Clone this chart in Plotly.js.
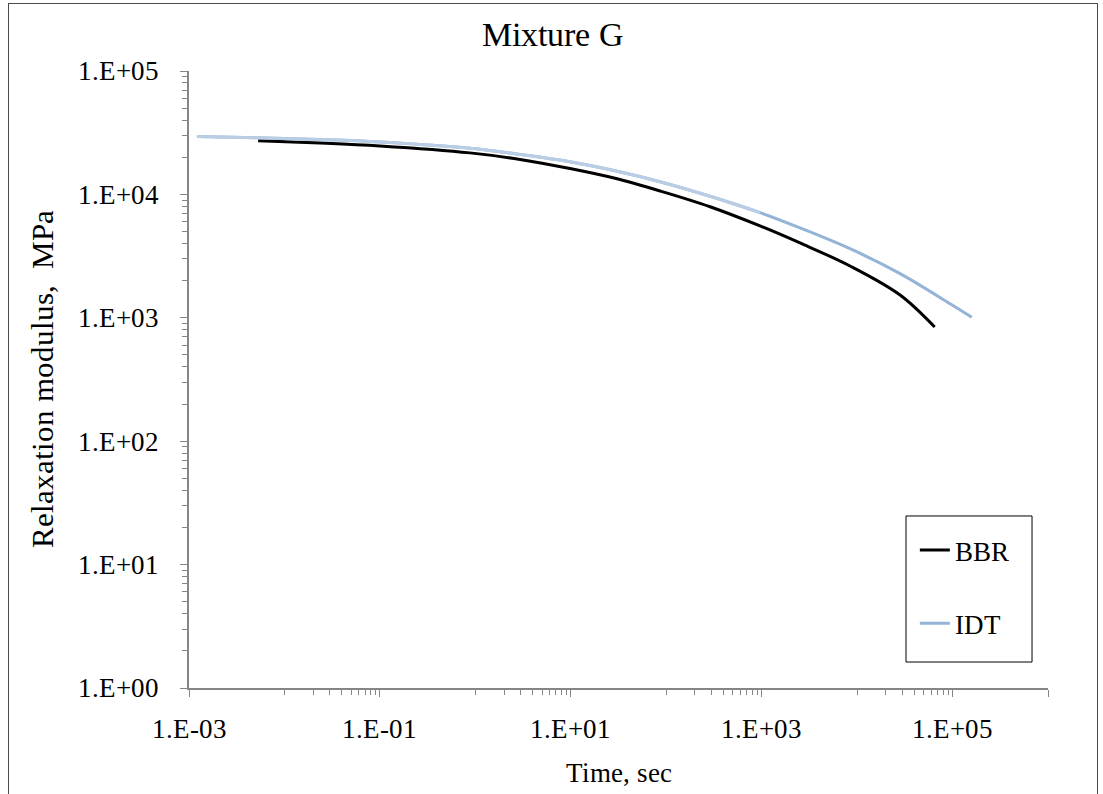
<!DOCTYPE html>
<html>
<head>
<meta charset="utf-8">
<script src="https://cdn.plot.ly/plotly-3.0.1.min.js"></script>
<style>
  @font-face {
    font-family: 'ChartSerif';
    src: local('Liberation Serif'), local('LiberationSerif'), local('LiberationSerif-Regular'),
         local('Times New Roman'), local('TimesNewRomanPSMT');
  }
  html, body { margin: 0; padding: 0; background: #ffffff; font-family: 'ChartSerif', 'Liberation Serif', serif; }
  #wrap { position: relative; width: 1103px; height: 794px; }
  #chart { width: 1103px; height: 794px; }
  #chart svg text { font-family: 'ChartSerif', 'Liberation Serif', 'Times New Roman', serif !important; fill: #000 !important; }
  #frame { position: absolute; left: 8px; top: 3px; width: 1090px; height: 800px;
           border: 1.5px solid #4a4a4a; pointer-events: none; box-sizing: border-box; }
</style>
</head>
<body>
<div id="wrap">
  <div id="chart"></div>
  <div id="frame"></div>
</div>
<script>
// ---- data ----
const bbrTime    = [5.3e-3, 0.0236, 0.1, 0.88, 2.94, 9.8, 29.1, 86, 288, 962, 2520, 8430, 28200, 65000];
const bbrModulus = [27200, 26100, 24700, 21700, 19200, 16200, 13500, 10660, 7940, 5550, 4040, 2630, 1530, 841];

const idtTime    = [1.21e-3, 5.3e-3, 0.0236, 0.1, 0.88, 2.94, 9.8, 29.1, 86, 288, 962, 2520, 8430, 28200, 94200, 159000];
const idtModulus = [29400, 28800, 27850, 26600, 23700, 21100, 18400, 15560, 12680, 9660, 7110, 5350, 3630, 2280, 1300, 1010];

// lighter overlay of the IDT curve up to 1.E+03 (as in the reference)
const idtLightLimit = 1000;

const xTickVals  = [1e-3, 1e-1, 1e1, 1e3, 1e5, 1e6];
const xTickText  = ['1.E-03', '1.E-01', '1.E+01', '1.E+03', '1.E+05', ''];
const yTickVals  = [1, 10, 100, 1000, 10000, 100000];
const yTickText  = ['1.E+00', '1.E+01', '1.E+02', '1.E+03', '1.E+04', '1.E+05'];
const minorDigits = [1, 2, 3, 4, 5, 6, 7, 8, 9];
const xMinorDecades = [-2, 0, 2, 4];
const yMinorDecades = [0, 1, 2, 3, 4];

const titleText = 'Mixture G';
const xTitle = 'Time, sec';
const yTitle = 'Relaxation modulus,\u00a0 MPa';

// ---- build ----
const xMinor = [];
xMinorDecades.forEach(d => minorDigits.forEach(m => xMinor.push(m * Math.pow(10, d))));
const yMinor = [];
yMinorDecades.forEach(d => minorDigits.slice(1).forEach(m => yMinor.push(m * Math.pow(10, d))));

const lightX = [], lightY = [];
idtTime.forEach((t, i) => { if (t <= idtLightLimit) { lightX.push(t); lightY.push(idtModulus[i]); } });

const SERIF = "ChartSerif, 'Liberation Serif', 'Times New Roman', serif";
const AXIS_COLOR = '#868686';
const tf = (size) => ({ family: SERIF, size: size });

const traces = [
  { x: bbrTime, y: bbrModulus, name: 'BBR', type: 'scatter', mode: 'lines',
    line: { color: '#000', width: 3, shape: 'spline', smoothing: 1 }, legendgroup: 'a' },
  { x: idtTime, y: idtModulus, name: 'IDT', type: 'scatter', mode: 'lines',
    line: { color: '#95b3d7', width: 3, shape: 'spline', smoothing: 1 }, legendgroup: 'b' },
  { x: lightX, y: lightY, name: 'IDT', type: 'scatter', mode: 'lines', showlegend: false,
    line: { color: '#b9cde5', width: 3, shape: 'spline', smoothing: 1 }, hoverinfo: 'skip' }
];

const layout = {
  width: 1103, height: 794,
  paper_bgcolor: '#ffffff', plot_bgcolor: '#ffffff',
  margin: { l: 189, r: 55, t: 71, b: 106, pad: 0 },
  font: tf(27),
  title: { text: titleText, font: tf(34),
           xref: 'container', x: 0.501, xanchor: 'center',
           yref: 'container', y: 0.957, yanchor: 'middle' },
  showlegend: true,
  legend: { x: 0.845, y: 0.2626, xanchor: 'left', yanchor: 'top',
            borderwidth: 0, bgcolor: 'rgba(0,0,0,0)',
            font: tf(27),
            traceorder: 'grouped', tracegroupgap: 35, itemwidth: 30 },
  shapes: [
    { type: 'rect', xref: 'paper', yref: 'paper', x0: 0.8347, x1: 0.9814, y0: 0.0421, y1: 0.2788,
      line: { color: '#000', width: 1 }, fillcolor: 'rgba(0,0,0,0)', layer: 'below' }
  ],
  xaxis: {
    type: 'log', range: [-3, 6], autorange: false,
    tickmode: 'array', tickvals: xTickVals, ticktext: xTickText,
    ticks: 'outside', ticklen: 7, tickwidth: 1, tickcolor: AXIS_COLOR,
    showline: true, linecolor: AXIS_COLOR, linewidth: 1.5,
    showgrid: false, zeroline: false, mirror: false,
    tickfont: tf(27),
    ticklabelstandoff: 9,
    minor: { tickmode: 'array', tickvals: xMinor, ticks: 'outside', ticklen: 5,
             tickwidth: 1, tickcolor: AXIS_COLOR, showgrid: false },
    title: { text: xTitle, font: tf(27), standoff: 20 }
  },
  yaxis: {
    type: 'log', range: [0, 5], autorange: false,
    tickmode: 'array', tickvals: yTickVals, ticktext: yTickText,
    ticks: 'outside', ticklen: 7, tickwidth: 1, tickcolor: AXIS_COLOR,
    showline: true, linecolor: AXIS_COLOR, linewidth: 1.5,
    showgrid: false, zeroline: false, mirror: false,
    tickfont: tf(27),
    ticklabelstandoff: 16,
    minor: { tickmode: 'array', tickvals: yMinor, ticks: 'outside', ticklen: 5,
             tickwidth: 1, tickcolor: AXIS_COLOR, showgrid: false },
    title: { text: yTitle, font: tf(31), standoff: 15 }
  }
};

const gd = document.getElementById('chart');
Plotly.newPlot(gd, traces, layout, { displayModeBar: false });
// re-measure text once the aliased serif face is available
if (document.fonts && document.fonts.load) {
  document.fonts.load("27px ChartSerif").then(() => Plotly.redraw(gd)).catch(() => {});
}
</script>
</body>
</html>
